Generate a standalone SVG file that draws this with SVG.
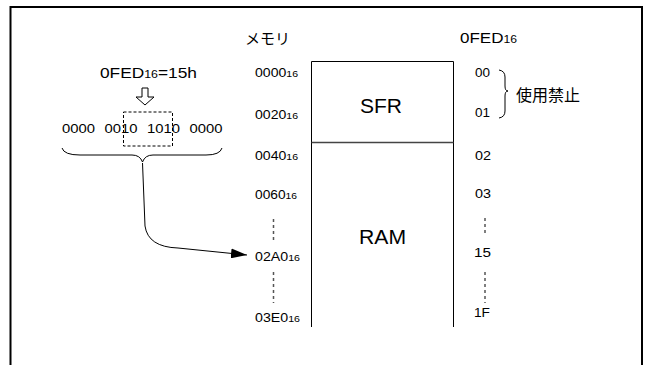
<svg xmlns="http://www.w3.org/2000/svg" width="645" height="365" viewBox="0 0 645 365">
<style>
text{font-family:"Liberation Sans",Arial,"Noto Sans CJK JP",sans-serif;fill:#000}
.t{font-size:12px}
.m{font-size:14px}
.s{font-size:9px}
.s2{font-size:10px}
.b{font-size:20px}
.j{font-size:15px;font-family:"Noto Sans CJK JP","Liberation Sans",sans-serif}
.ln{fill:none;stroke:#000;stroke-width:1}
.dot{fill:none;stroke:#555;stroke-width:1.5;stroke-dasharray:3,3}
</style>
<defs>
<marker id="ah" viewBox="0 0 16 10" refX="16" refY="5" markerWidth="16" markerHeight="10" markerUnits="userSpaceOnUse" orient="auto"><path d="M0,0 L16,5 L0,10 z" fill="#000"/></marker>
</defs>
<rect x="10.5" y="7" width="631.5" height="370" fill="none" stroke="#000" stroke-width="2"/>
<g id="memory">
<path class="ln" d="M311.5,327 V61.5 H453.5 V327"/>
<line x1="311.5" y1="142.5" x2="453.5" y2="142.5" stroke="#444" stroke-width="1.5"/>
<text class="b" x="360" y="113" textLength="42" lengthAdjust="spacingAndGlyphs">SFR</text>
<text class="b" x="359" y="244" textLength="47" lengthAdjust="spacingAndGlyphs">RAM</text>
</g>
<g id="titles">
<text class="j" x="245" y="44">メモリ</text>
<text class="m" x="460" y="43" textLength="57" lengthAdjust="spacingAndGlyphs">0FED<tspan class="s2">16</tspan></text>
</g>
<g id="addresses">
<text class="t" x="255" y="77" textLength="43" lengthAdjust="spacingAndGlyphs">0000<tspan class="s">16</tspan></text>
<text class="t" x="255" y="118.5" textLength="43" lengthAdjust="spacingAndGlyphs">0020<tspan class="s">16</tspan></text>
<text class="t" x="255" y="159.5" textLength="43" lengthAdjust="spacingAndGlyphs">0040<tspan class="s">16</tspan></text>
<text class="t" x="255" y="198.5" textLength="42" lengthAdjust="spacingAndGlyphs">0060<tspan class="s">16</tspan></text>
<line class="dot" x1="273.5" y1="219" x2="273.5" y2="243"/>
<text class="t" x="255" y="261" textLength="45" lengthAdjust="spacingAndGlyphs">02A0<tspan class="s">16</tspan></text>
<line class="dot" x1="273.5" y1="272" x2="273.5" y2="303"/>
<text class="t" x="255" y="322" textLength="45" lengthAdjust="spacingAndGlyphs">03E0<tspan class="s">16</tspan></text>
</g>
<g id="offsets">
<text class="t" x="475" y="77" textLength="15" lengthAdjust="spacingAndGlyphs">00</text>
<text class="t" x="475" y="117" textLength="15" lengthAdjust="spacingAndGlyphs">01</text>
<text class="t" x="475" y="159.5" textLength="16" lengthAdjust="spacingAndGlyphs">02</text>
<text class="t" x="475" y="198" textLength="16" lengthAdjust="spacingAndGlyphs">03</text>
<line class="dot" x1="485" y1="218" x2="485" y2="236"/>
<text class="t" x="474" y="256.5" textLength="17" lengthAdjust="spacingAndGlyphs">15</text>
<line class="dot" x1="485" y1="272" x2="485" y2="303"/>
<text class="t" x="474" y="317" textLength="16" lengthAdjust="spacingAndGlyphs">1F</text>
<path class="ln" d="M499,70 Q505,71 505,77 V86 Q505,91 508,91 Q505,91 505,96 V111 Q505,117 499,118"/>
<text class="j" x="516" y="101" style="font-size:16px">使用禁止</text>
</g>
<g id="bits">
<text class="m" x="100" y="78" textLength="97" lengthAdjust="spacingAndGlyphs">0FED<tspan class="s2">16</tspan>=15h</text>
<path class="ln" d="M142,88 V97 H136 L145,105 L154,97 H148 V88 Z"/>
<text class="t" x="62" y="133" textLength="33" lengthAdjust="spacingAndGlyphs">0000</text>
<text class="t" x="104.5" y="133" textLength="33" lengthAdjust="spacingAndGlyphs">0010</text>
<text class="t" x="147" y="133" textLength="33" lengthAdjust="spacingAndGlyphs">1010</text>
<text class="t" x="189.5" y="133" textLength="33" lengthAdjust="spacingAndGlyphs">0000</text>
<rect x="123.5" y="112" width="49" height="34" fill="none" stroke="#000" stroke-width="1" stroke-dasharray="3,2"/>
<path class="ln" d="M62,148 Q64,155 80,155 H132 Q140,155 142.5,162 Q145,155 153,155 H206 Q220,155 222,148"/>
</g>
<g id="connectors">
<path class="ln" d="M142.5,163 L145,226 Q148,247 178,248 L247,255" marker-end="url(#ah)"/>
</g>
</svg>
